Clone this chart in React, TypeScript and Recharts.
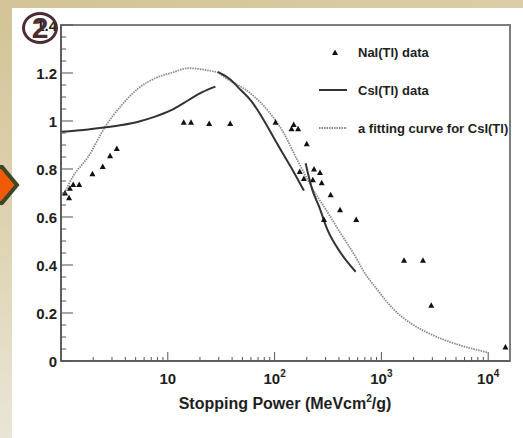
import React from 'react';
import { ComposedChart, Line, Scatter, XAxis, YAxis, ReferenceArea, Legend } from 'recharts';

// NaI(Tl) data points
const NAI_X = [1.09, 1.19, 1.21, 1.3, 1.48, 1.97, 2.46, 2.88, 3.33, 14.1, 16.5, 24.4, 38.4, 102, 144, 151, 166, 200, 172, 234, 266, 188, 228, 276, 335, 410, 290, 581, 1630, 2450, 2930, 14500];
const NAI_Y = [0.7, 0.68, 0.72, 0.735, 0.735, 0.78, 0.81, 0.855, 0.885, 0.995, 0.995, 0.99, 0.99, 0.995, 0.968, 0.985, 0.968, 0.905, 0.79, 0.8, 0.785, 0.76, 0.755, 0.743, 0.693, 0.63, 0.59, 0.59, 0.42, 0.42, 0.232, 0.058];

// CsI(Tl) data, three measured segments
const CSI1_X = [1, 1.8, 3.7, 5.3, 7.6, 10.9, 15.7, 21, 27.9];
const CSI1_Y = [0.955, 0.965, 0.983, 0.997, 1.018, 1.046, 1.0875, 1.12, 1.143];
const CSI2_X = [29.4, 38, 48, 60, 74, 90, 114, 150, 188];
const CSI2_Y = [1.205, 1.175, 1.13, 1.085, 1.025, 0.96, 0.88, 0.79, 0.71];
const CSI3_X = [195, 226, 261, 313, 418, 574];
const CSI3_Y = [0.824, 0.712, 0.643, 0.546, 0.449, 0.372];

// fitting curve for CsI(Tl)
const FIT_X = [1.05, 1.3, 1.8, 2.59, 3.71, 5.3, 7.6, 10.9, 15.7, 22.5, 30, 33.3, 59.5, 85.5, 122, 163, 251, 290, 415, 595, 643, 920, 1320, 1890, 2700, 3900, 5600, 9200, 10000];
const FIT_Y = [0.69, 0.77, 0.851, 0.976, 1.067, 1.136, 1.178, 1.201, 1.22, 1.2125, 1.2, 1.185, 1.115, 1.046, 0.949, 0.8375, 0.685, 0.643, 0.532, 0.421, 0.393, 0.296, 0.2125, 0.157, 0.118, 0.0875, 0.064, 0.039, 0.035];

// axes
const X_TICKS = [2, 3, 4, 5, 6, 7, 8, 9, 10, 20, 30, 40, 50, 60, 70, 80, 90, 100, 200, 300, 400, 500, 600, 700, 800, 900, 1000, 2000, 3000, 4000, 5000, 6000, 7000, 8000, 9000, 10000];
const X_MAJOR = [10, 100, 1000, 10000];
const X_MAJOR_EXP = ['', '2', '3', '4'];
const Y_TICKS = [0, 0.05, 0.1, 0.15, 0.2, 0.25, 0.3, 0.35, 0.4, 0.45, 0.5, 0.55, 0.6, 0.65, 0.7, 0.75, 0.8, 0.85, 0.9, 0.95, 1, 1.05, 1.1, 1.15, 1.2, 1.25, 1.3, 1.35, 1.4];
const Y_MAJOR = [0, 0.2, 0.4, 0.6, 0.8, 1, 1.2, 1.4];
const Y_LABELS = ['0', '0.2', '0.4', '0.6', '0.8', '1', '1.2', '1.4'];
const X_TITLE = 'Stopping Power (MeVcm';
const X_TITLE_SUP = '2';
const X_TITLE_END = '/g)';
const LEGEND_LABELS = ['NaI(Tl) data', 'CsI(Tl) data', 'a fitting curve for CsI(Tl)'];

const zip = (xs: number[], ys: number[]) => xs.map((x, i) => ({ x, y: ys[i] }));
const naiData = zip(NAI_X, NAI_Y);
const csi1 = zip(CSI1_X, CSI1_Y);
const csi2 = zip(CSI2_X, CSI2_Y);
const csi3 = zip(CSI3_X, CSI3_Y);
const fitData = zip(FIT_X, FIT_Y);

const FONT = '"Liberation Sans", Arial, Helvetica, sans-serif';
const AXIS = '#555';
const TXT = '#1e1e1e';

const XTick = (props: any) => {
  const { x, y, payload } = props;
  const idx = X_MAJOR.indexOf(payload.value);
  const major = idx >= 0;
  return (
    <g>
      <line x1={x} x2={x} y1={y} y2={y - (major ? 9 : 4)} stroke={AXIS} strokeWidth={1} />
      {major && (
        <text x={x} y={y + 23} textAnchor="middle" fontFamily={FONT} fontWeight="bold" fontSize={15} fill={TXT}>
          <tspan>10</tspan>
          {X_MAJOR_EXP[idx] && <tspan dy={-7} fontSize={10}>{X_MAJOR_EXP[idx]}</tspan>}
        </text>
      )}
    </g>
  );
};

const YTick = (props: any) => {
  const { x, y, payload } = props;
  const idx = Y_MAJOR.findIndex((m) => Math.abs(m - payload.value) < 1e-6);
  const major = idx >= 0;
  return (
    <g>
      <line x1={x} x2={x + (major ? 12 : 5)} y1={y} y2={y} stroke={AXIS} strokeWidth={1} />
      {major && (
        <text x={x - 4} y={y + 5.5} textAnchor="end" fontFamily={FONT} fontWeight="bold" fontSize={15} fill={TXT}>
          {Y_LABELS[idx]}
        </text>
      )}
    </g>
  );
};

const Triangle = (props: any) => {
  const { cx, cy } = props;
  if (cx == null || cy == null) return null;
  return <polygon points={`${cx - 3},${cy + 2.5} ${cx + 3},${cy + 2.5} ${cx},${cy - 3}`} fill="#111" />;
};

const renderLegend = () => (
  <svg width={200} height={100} style={{ overflow: 'visible' }}>
    <polygon points="17,15 23,15 20,9.5" fill="#111" />
    <text x={43} y={16.5} fontFamily={FONT} fontWeight="bold" fontSize={13} fill={TXT}>{LEGEND_LABELS[0]}</text>
    <line x1={4} x2={32} y1={50} y2={50} stroke="#333" strokeWidth={2} />
    <text x={43} y={54.5} fontFamily={FONT} fontWeight="bold" fontSize={13} fill={TXT}>{LEGEND_LABELS[1]}</text>
    <line x1={4} x2={32} y1={88} y2={88} stroke="#8a8a8a" strokeWidth={1.8} strokeDasharray="1.5 1" />
    <text x={43} y={92.5} fontFamily={FONT} fontWeight="bold" fontSize={13} fill={TXT}>{LEGEND_LABELS[2]}</text>
  </svg>
);

export default function App() {
  return (
    <div
      style={{
        position: 'absolute',
        left: 0,
        top: 0,
        width: 523,
        height: 438,
        overflow: 'hidden',
        background: 'linear-gradient(165deg, #d3c396 0%, #ddd1ad 35%, #e9e5d6 75%, #efede6 100%)',
      }}
    >
      <div style={{ position: 'absolute', left: 12, top: 8, right: 0, bottom: 0, background: '#ffffff' }} />
      <svg width={24} height={60} style={{ position: 'absolute', left: 0, top: 158 }}>
        <polygon points="-4,9 2,9 17,27 2,45 -4,45" fill="#f25a07" stroke="#3b4726" strokeWidth={4} strokeLinejoin="miter" />
      </svg>
      <div style={{ position: 'absolute', left: 0, top: 0 }}>
        <ComposedChart width={523} height={438} margin={{ top: 25, right: 13, bottom: 67, left: 51 }}>
          <ReferenceArea x1={1} x2={16000} y1={0} y2={1.4} fill="none" stroke="#7d7d7d" strokeWidth={2} ifOverflow="visible" />
          <XAxis
            dataKey="x"
            type="number"
            scale="log"
            domain={[1, 16000]}
            ticks={X_TICKS}
            interval={0}
            height={10}
            tickSize={0}
            tickMargin={0}
            tickLine={false}
            tick={XTick}
            axisLine={{ stroke: AXIS, strokeWidth: 1.5 }}
            allowDataOverflow
          />
          <YAxis
            dataKey="y"
            type="number"
            domain={[0, 1.4]}
            ticks={Y_TICKS}
            interval={0}
            width={10}
            tickSize={0}
            tickMargin={0}
            tickLine={false}
            tick={YTick}
            axisLine={{ stroke: AXIS, strokeWidth: 1.5 }}
            allowDataOverflow
          />
          <Legend
            content={renderLegend}
            layout="horizontal"
            verticalAlign="middle"
            align="center"
            wrapperStyle={{ position: 'absolute', left: 315, top: 40, width: 200, height: 100 }}
          />
          <Line data={fitData} dataKey="y" type="monotone" stroke="#8a8a8a" strokeWidth={1.8} strokeDasharray="1.5 1" dot={false} isAnimationActive={false} legendType="none" />
          <Line data={csi1} dataKey="y" type="monotone" stroke="#333" strokeWidth={2} dot={false} isAnimationActive={false} legendType="none" />
          <Line data={csi2} dataKey="y" type="monotone" stroke="#333" strokeWidth={2} dot={false} isAnimationActive={false} legendType="none" />
          <Line data={csi3} dataKey="y" type="monotone" stroke="#333" strokeWidth={2} dot={false} isAnimationActive={false} legendType="none" />
          <Scatter data={naiData} dataKey="y" shape={Triangle} isAnimationActive={false} legendType="none" />
          <text x={285} y={409} textAnchor="middle" fontFamily={FONT} fontWeight="bold" fontSize={16} fill={TXT}>
            <tspan>{X_TITLE}</tspan>
            <tspan dy={-7} fontSize={10}>{X_TITLE_SUP}</tspan>
            <tspan dy={7}>{X_TITLE_END}</tspan>
          </text>
        </ComposedChart>
      </div>
      <div
        style={{
          position: 'absolute',
          left: 22,
          top: 12,
          width: 36,
          height: 32,
          boxSizing: 'border-box',
          border: '3px solid #4d2b33',
          borderRadius: '50%',
          display: 'flex',
          alignItems: 'center',
          justifyContent: 'center',
          fontFamily: FONT,
          fontWeight: 'bold',
          fontSize: 30,
          lineHeight: 1,
          color: '#4d2b33',
        }}
      >
        2
      </div>
    </div>
  );
}
